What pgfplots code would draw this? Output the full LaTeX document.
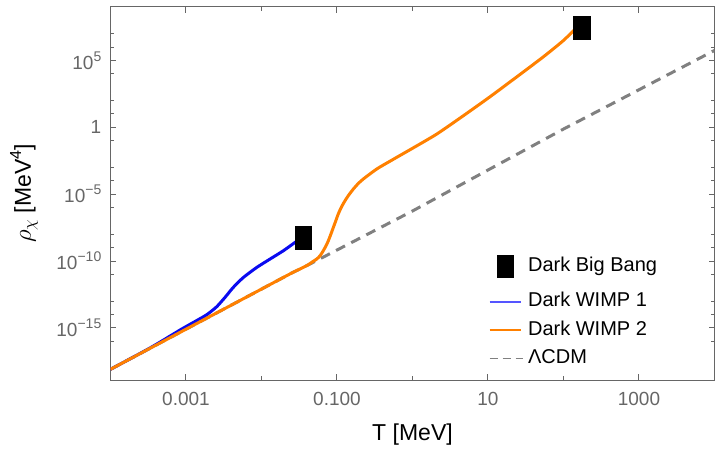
\documentclass[border=0pt]{standalone}
\usepackage{pgfplots}
\pgfplotsset{compat=1.18}
\usepackage{fontspec}
\setmainfont{Liberation Sans}
\definecolor{tickgray}{RGB}{102,102,102}
\definecolor{mblue}{RGB}{10,10,240}
\definecolor{lblue}{RGB}{85,85,255}
\definecolor{morange}{RGB}{255,128,0}
\definecolor{dgray}{RGB}{128,128,128}
\newcommand\sps[1]{\raisebox{0.42em}{\fontsize{14bp}{14bp}\selectfont #1}}
\newcommand\spl[1]{\raisebox{0.42em}{\fontsize{16bp}{16bp}\selectfont #1}}

\begin{document}
\begin{tikzpicture}
\begin{axis}[
  scale only axis, width=604bp, height=373bp,
  xmode=log, ymode=log,
  xmin=1e-4, xmax=1e4, ymin=1.259e-19, ymax=1e9,
  axis line style={tickgray, line width=1bp},
  xtick={1e-3,1e-1,1e1,1e3}, xticklabels={0.001,0.100,10,1000},
  minor xtick={1e-2,1,1e2},
  ytick={1e-15,1e-10,1e-5,1,1e5},
  yticklabels={10\sps{−15},10\sps{−10},10\sps{−5},1,10\sps{5}},
  minor ytick={1e7,1e6,1e4,1e2,1e1,1e-1,1e-3,1e-4,1e-6,1e-8,1e-9,1e-11,1e-13,1e-14,1e-16},
  tick style={tickgray, line width=1bp},
  major tick length=6bp, minor tick length=4bp,
  tick align=inside,
  xticklabel style={font=\fontsize{19bp}{22bp}\selectfont, text=tickgray, inner sep=0pt, yshift=-11.7bp},
  yticklabel style={font=\fontsize{19bp}{22bp}\selectfont, text=tickgray, inner sep=0pt, xshift=-9bp},
  xlabel={T [MeV]},
  ylabel={$\rho_\chi$ [MeV\spl{4}]},
  xlabel style={font=\fontsize{23bp}{26bp}\selectfont, at={(axis description cs:0.5,-0.1475)}, anchor=center},
  ylabel style={font=\fontsize{23bp}{26bp}\selectfont, at={(axis description cs:-0.1432,0.5)}, anchor=center, rotate=0},
  clip=true,
  legend style={draw=none, fill=none, inner sep=0pt, at={(axis description cs:0.626,0.3523)}, anchor=north west,
    font=\fontsize{20bp}{24bp}\selectfont, row sep=8.3bp, column sep=4.6bp,
    nodes={text height=15bp, text depth=5bp, inner sep=0pt}},
  legend cell align=left,
]
% Lambda CDM
\addplot[forget plot, dgray, line width=3bp, dash pattern=on 10bp off 7bp] coordinates {
 (1e-4,7.943e-19) (1e-3,7.943e-16) (1e-2,7.943e-13) (0.025,1.242e-11) (0.04,4.571e-11)
 (1.0,5.5e-7) (100,0.7413) (1e4,5.623e5)};
% Dark WIMP 1
\addplot[forget plot, mblue, line width=3bp, smooth, tension=0.4] coordinates {
 (1e-4,7.943e-19) (3.162e-4,2.630e-17) (6e-4,2.239e-16) (9e-4,8.913e-16) (1.4e-3,3.631e-15)
 (1.9e-3,1.0e-14) (2.55e-3,3.802e-14) (3.3e-3,1.950e-13) (4.2e-3,1.023e-12) (5.7e-3,5.623e-12)
 (8.6e-3,3.236e-11) (0.013,1.413e-10) (0.0195,5.888e-10) (0.0278,2.455e-9) (0.0316,3.981e-9)};
% Dark WIMP 2
\addplot[forget plot, morange, line width=3bp, smooth, tension=0.4] coordinates {
 (1e-4,7.943e-19) (1e-3,7.943e-16) (1e-2,7.943e-13) (0.025,1.242e-11) (0.04,4.571e-11)
 (0.047,8.511e-11) (0.054,1.413e-10) (0.06,2.570e-10) (0.066,6.026e-10) (0.072,1.479e-9)
 (0.077,3.388e-9) (0.083,1.023e-8) (0.09,3.548e-8) (0.097,1.122e-7) (0.104,3.311e-7)
 (0.115,1.148e-6) (0.128,3.311e-6) (0.145,9.550e-6) (0.165,2.455e-5) (0.19,6.026e-5)
 (0.225,1.413e-4) (0.34,7.943e-4) (0.56,4.12e-3) (1.0,2.692e-2)
 (2.1,0.3162) (4.7,7.244) (10.6,190.5) (24,5888) (54,1.862e5) (100,3.162e6) (158,3.981e7)};
% Dark Big Bang markers
\addplot[forget plot, only marks, mark=square*, mark size=11.5bp,
  mark options={xscale=0.72, fill=black, draw=black, line width=0pt}] coordinates {
 (0.03622,5.07e-9) (175.8,2.472e7)};
% legend
\addlegendimage{legend image code/.code={\path[draw=none,fill=none] (0bp,-17.4bp) rectangle (31.7bp,17.4bp);
  \fill[black, draw=none] (7.6bp,-11.5bp) rectangle (24.1bp,11.5bp);}}
\addlegendentry{Dark Big Bang}
\addlegendimage{legend image code/.code={\draw[lblue, line width=1.5bp] (0bp,0bp) -- (31.7bp,0bp);}}
\addlegendentry{Dark WIMP 1}
\addlegendimage{legend image code/.code={\draw[morange, line width=1.5bp] (0bp,0bp) -- (31.7bp,0bp);}}
\addlegendentry{Dark WIMP 2}
\addlegendimage{legend image code/.code={\draw[dgray, line width=1.7bp, dash pattern=on 8bp off 5bp] (0bp,0bp) -- (33bp,0bp);}}
\addlegendentry{ΛCDM}
\coordinate (sw) at (rel axis cs:0,0);
\coordinate (ne) at (rel axis cs:1,1);
\end{axis}
\path ([shift={(-110.5bp,-70bp)}]sw) rectangle ([shift={(12.5bp,7bp)}]ne);
\end{tikzpicture}
\end{document}
